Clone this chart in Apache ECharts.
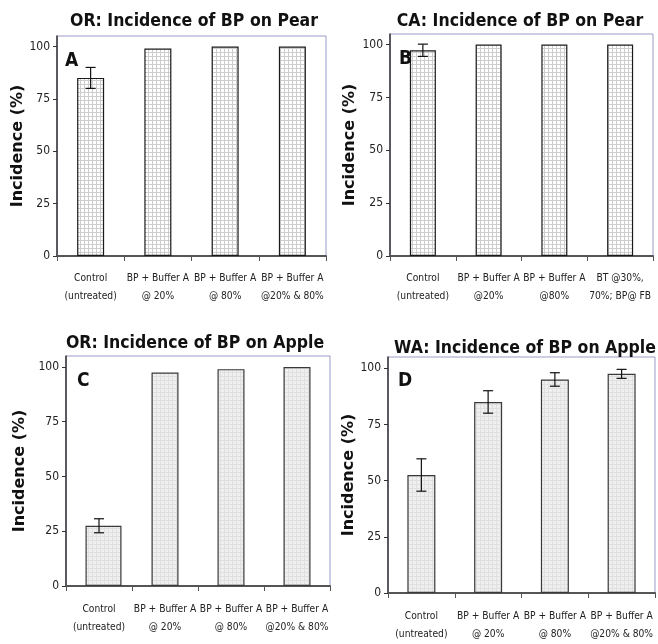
<!DOCTYPE html>
<html><head><meta charset="utf-8">
<script src="https://cdn.jsdelivr.net/npm/echarts@6/dist/echarts.min.js"></script>
<style>html,body{margin:0;padding:0;background:#fff}#c{width:658px;height:644px}</style>
</head><body><div id="c"></div>
<script>
const categoriesA = ['Control\n(untreated)', 'BP + Buffer A\n@ 20%', 'BP + Buffer A\n@ 80%', 'BP + Buffer A\n@20% & 80%'];
const categoriesB = ['Control\n(untreated)', 'BP + Buffer A\n@20%', 'BP + Buffer A\n@80%', 'BT @30%,\n70%; BP@ FB'];
const categoriesC = ['Control\n(untreated)', 'BP + Buffer A\n@ 20%', 'BP + Buffer A\n@ 80%', 'BP + Buffer A\n@20% & 80%'];
const categoriesD = ['Control\n(untreated)', 'BP + Buffer A\n@ 20%', 'BP + Buffer A\n@ 80%', 'BP + Buffer A\n@20% & 80%'];
const valuesA = [85, 99, 100, 100];
const errorsA = [5, 0, 0, 0];
const valuesB = [97.3, 100, 100, 100];
const errorsB = [2.9, 0, 0, 0];
const valuesC = [27.5, 97.5, 99, 100];
const errorsC = [3.2, 0, 0, 0];
const valuesD = [52.5, 85, 95, 97.5];
const errorsD = [7.2, 5, 3, 2];
const yTicks = [0, 25, 50, 75, 100];
const titles = ['OR: Incidence of BP on Pear', 'CA: Incidence of BP on Pear', 'OR: Incidence of BP on Apple', 'WA: Incidence of BP on Apple'];
const letters = ['A', 'B', 'C', 'D'];
const yName = 'Incidence (%)';

function makePattern(bg, line, step) {
  const cv = document.createElement('canvas');
  cv.width = step; cv.height = step;
  const ctx = cv.getContext('2d');
  ctx.fillStyle = bg; ctx.fillRect(0, 0, step, step);
  ctx.fillStyle = line;
  ctx.fillRect(0, 0, step, 1);
  ctx.fillRect(0, 0, 1, step);
  return cv;
}
const patGrid = { image: makePattern('#ffffff', '#cdcdcd', 4), repeat: 'repeat' };
const patLight = { image: makePattern('#efefef', '#e0e0e0', 4), repeat: 'repeat' };

const narrow = '"Liberation Sans Narrow", "Arial Narrow", "DejaVu Sans Condensed", sans-serif';

const panels = [
  { cats: categoriesA, vals: valuesA, errs: errorsA, grid: { left: 57, top: 36, width: 269, height: 220 }, gap: 31, fill: patGrid, border: '#1a1a1a', ctrlW: 27, barW: 27, title: [189, 7], letter: [60, 47], labelMargin: 13 },
  { cats: categoriesB, vals: valuesB, errs: errorsB, grid: { left: 390, top: 34, width: 263, height: 222 }, gap: 32, fill: patGrid, border: '#1a1a1a', ctrlW: 26, barW: 26, title: [515, 7], letter: [394, 45], labelMargin: 13 },
  { cats: categoriesC, vals: valuesC, errs: errorsC, grid: { left: 66, top: 356, width: 264, height: 230 }, gap: 38, fill: patLight, border: '#3a3a3a', ctrlW: 36, barW: 27, title: [190, 329], letter: [72, 367], labelMargin: 14 },
  { cats: categoriesD, vals: valuesD, errs: errorsD, grid: { left: 388, top: 357, width: 267, height: 236 }, gap: 30, fill: patLight, border: '#3a3a3a', ctrlW: 28, barW: 28, title: [520, 334], letter: [393, 367], labelMargin: 14 }
];

const option = {
  animation: false,
  backgroundColor: '#fff',
  title: [], grid: [], xAxis: [], yAxis: [], series: []
};

panels.forEach((p, i) => {
  option.title.push({
    text: titles[i], left: p.title[0], top: p.title[1], textAlign: 'center',
    textStyle: { fontFamily: narrow, fontWeight: 'bold', fontSize: 17.5, color: '#111' }
  });
  option.title.push({
    text: letters[i], left: p.letter[0], top: p.letter[1],
    textStyle: { fontFamily: narrow, fontWeight: 'bold', fontSize: 19, color: '#111' }
  });
  option.grid.push(Object.assign({ show: true, borderColor: '#9a9ac8', borderWidth: 1, backgroundColor: 'transparent', containLabel: false }, p.grid));
  option.xAxis.push({
    type: 'category', gridIndex: i, data: p.cats,
    axisLine: { lineStyle: { color: '#555', width: 2 } },
    axisTick: { show: true, alignWithLabel: false, length: 5, lineStyle: { color: '#555', width: 1 } },
    axisLabel: { interval: 0, margin: p.labelMargin, fontFamily: narrow, fontSize: 10.2, lineHeight: 18, color: '#222' },
    splitLine: { show: false }
  });
  option.yAxis.push({
    type: 'value', gridIndex: i, min: 0, max: 105, interval: 25,
    name: yName, nameLocation: 'middle', nameGap: p.gap, nameRotate: 90,
    nameTextStyle: { fontFamily: '"DejaVu Sans", sans-serif', fontWeight: 'bold', fontSize: 16, color: '#111' },
    axisLine: { show: true, lineStyle: { color: '#333', width: 1.5 } },
    axisTick: { show: true, length: 4, customValues: yTicks, lineStyle: { color: '#333' } },
    axisLabel: { customValues: yTicks, margin: 7, fontFamily: narrow, fontSize: 12, color: '#222' },
    splitLine: { show: false }
  });
  const ctrlData = p.vals.map((v, k) => k === 0 ? v : '-');
  const restData = p.vals.map((v, k) => k === 0 ? '-' : v);
  const style = { color: p.fill, borderColor: p.border, borderWidth: 1.2 };
  option.series.push({
    type: 'bar', xAxisIndex: i, yAxisIndex: i, data: ctrlData, barWidth: p.ctrlW, barGap: '-100%', itemStyle: style, silent: true
  });
  option.series.push({
    type: 'bar', xAxisIndex: i, yAxisIndex: i, data: restData, barWidth: p.barW, barGap: '-100%', itemStyle: style, silent: true
  });
  option.series.push({
    type: 'custom', xAxisIndex: i, yAxisIndex: i, silent: true, z: 10,
    data: p.vals.map((v, k) => [k, v, p.errs[k]]),
    renderItem: function (params, api) {
      const k = api.value(0), v = api.value(1), e = api.value(2);
      if (!e) return null;
      const hi = api.coord([k, v + e]);
      const lo = api.coord([k, v - e]);
      const w = 5;
      const st = { stroke: '#111', lineWidth: 1.2 };
      return {
        type: 'group', children: [
          { type: 'line', shape: { x1: hi[0], y1: hi[1], x2: lo[0], y2: lo[1] }, style: st },
          { type: 'line', shape: { x1: hi[0] - w, y1: hi[1], x2: hi[0] + w, y2: hi[1] }, style: st },
          { type: 'line', shape: { x1: lo[0] - w, y1: lo[1], x2: lo[0] + w, y2: lo[1] }, style: st }
        ]
      };
    }
  });
});

const chart = echarts.init(document.getElementById('c'), null, { renderer: 'canvas' });
chart.setOption(option);
</script>
</body></html>
